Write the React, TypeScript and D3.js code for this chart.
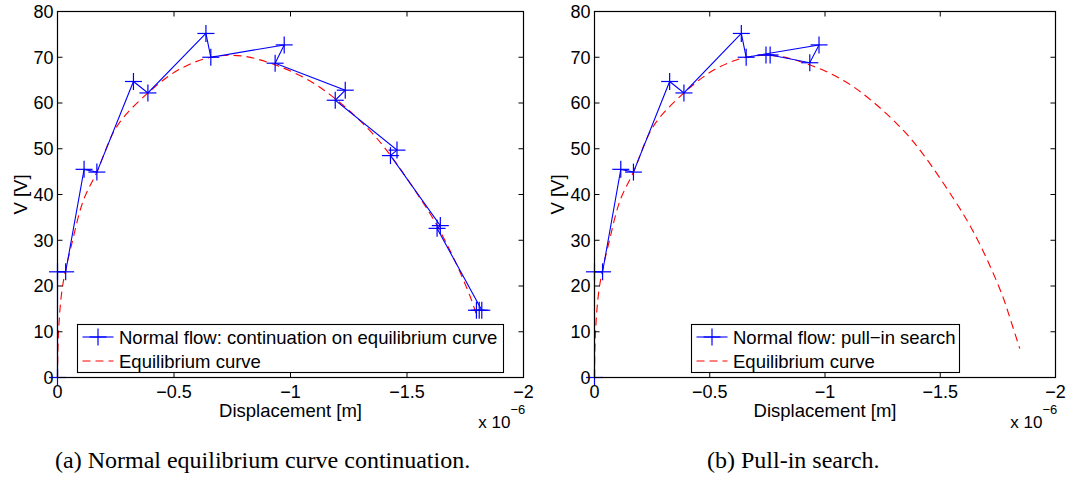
import React from 'react';
import * as d3 from 'd3';

// axis ticks (displacement in units of 1e-6 m)
const xTicks = [0, -0.5, -1, -1.5, -2];
const xTickLabels = ['0', '\u22120.5', '\u22121', '\u22121.5', '\u22122'];
const yTicks = [0, 10, 20, 30, 40, 50, 60, 70, 80];

// equilibrium curve (red dashed)
const eqDisp = [0, -0.0044, -0.022, -0.065, -0.111, -0.169, -0.255, -0.388, -0.521, -0.658, -0.788, -0.936, -1.084, -1.2, -1.34, -1.43, -1.56, -1.628, -1.703, -1.772, -1.796, -1.845];
const eqVolt = [0, 10, 20, 30, 38.7, 44.9, 54.9, 62.2, 67.3, 70.0, 70.3, 68.3, 64.8, 60.6, 54.0, 48.5, 38.9, 33.3, 25.8, 17.6, 14.0, 6.3];

// (a) normal flow: continuation on equilibrium curve
const contDisp = [0, 0, -0.035, -0.114, -0.169, -0.326, -0.388, -0.637, -0.658, -0.973, -0.934, -1.235, -1.192, -1.457, -1.429, -1.643, -1.629, -1.821, -1.798, -1.81];
const contVolt = [0, 23.1, 23.1, 45.5, 44.9, 64.7, 62.2, 75.2, 70.0, 72.7, 68.7, 62.8, 60.6, 49.7, 48.5, 33.2, 32.6, 14.7, 14.7, 14.7];

// (b) normal flow: pull-in search
const pullDisp = [0, 0, -0.035, -0.114, -0.169, -0.326, -0.388, -0.637, -0.658, -0.974, -0.934, -0.762, -0.744];
const pullVolt = [0, 23.1, 23.1, 45.5, 44.9, 64.7, 62.2, 75.2, 70.0, 72.7, 68.8, 70.5, 70.5];

const TOP = 11.5;
const BOTTOM = 377.5;
const FONT = '"Liberation Sans", Arial, Helvetica, sans-serif';
const SERIF = '"Liberation Serif", "Times New Roman", serif';
const BLUE = '#0000ff';
const RED = '#ff0000';

function Plus({ cx, cy, r = 8.5 }) {
  return (
    <g stroke={BLUE} strokeWidth={1.2}>
      <line x1={cx - r} x2={cx + r} y1={cy} y2={cy} />
      <line x1={cx} x2={cx} y1={cy - r} y2={cy + r} />
    </g>
  );
}

function Panel({ left, right, flowDisp, flowVolt, eqEnd, legendText, legendX, legendW, caption, captionX }) {
  const x = d3.scaleLinear().domain([0, -2]).range([left, right]);
  const y = d3.scaleLinear().domain([0, 80]).range([BOTTOM, TOP]);

  const eqIdx = d3.range(eqDisp.length).filter((i) => eqDisp[i] >= eqEnd);
  const eqLine = d3
    .line<number>()
    .x((i) => x(eqDisp[i]))
    .y((i) => y(eqVolt[i]))
    .curve(d3.curveCatmullRom.alpha(0.5));
  const flowLine = d3
    .line<number>()
    .x((i) => x(flowDisp[i]))
    .y((i) => y(flowVolt[i]));
  const flowIdx = d3.range(flowDisp.length);

  const legTop = 324.5;
  const legH = 48;
  const midX = (left + right) / 2;

  return (
    <g>
      {/* curves */}
      <path d={eqLine(eqIdx) || ''} fill="none" stroke={RED} strokeWidth={1.1} strokeDasharray="8,5" />
      <path d={flowLine(flowIdx) || ''} fill="none" stroke={BLUE} strokeWidth={1.1} />
      {flowIdx.map((i) => (
        <Plus key={i} cx={x(flowDisp[i])} cy={y(flowVolt[i])} />
      ))}

      {/* frame and ticks */}
      <rect x={left} y={TOP} width={right - left} height={BOTTOM - TOP} fill="none" stroke="#000" strokeWidth={1.2} />
      {xTicks.map((t, i) => (
        <g key={'x' + t}>
          <line x1={x(t)} x2={x(t)} y1={BOTTOM} y2={BOTTOM - 5} stroke="#000" />
          <line x1={x(t)} x2={x(t)} y1={TOP} y2={TOP + 5} stroke="#000" />
          <text x={x(t)} y={BOTTOM + 20} textAnchor="middle" fontSize={18} fontFamily={FONT}>
            {xTickLabels[i]}
          </text>
        </g>
      ))}
      {yTicks.map((t) => (
        <g key={'y' + t}>
          <line x1={left} x2={left + 5} y1={y(t)} y2={y(t)} stroke="#000" />
          <line x1={right} x2={right - 5} y1={y(t)} y2={y(t)} stroke="#000" />
          <text x={left - 4} y={y(t)} dy="0.36em" textAnchor="end" fontSize={18} fontFamily={FONT}>
            {t}
          </text>
        </g>
      ))}

      {/* axis labels */}
      <text x={midX} y={416.5} textAnchor="middle" fontSize={18.5} fontFamily={FONT}>
        Displacement [m]
      </text>
      <text
        x={left - 31}
        y={(TOP + BOTTOM) / 2}
        transform={`rotate(-90, ${left - 31}, ${(TOP + BOTTOM) / 2})`}
        textAnchor="middle"
        fontSize={18.5}
        fontFamily={FONT}
      >
        V [V]
      </text>
      <text x={right - 13} y={428} textAnchor="end" fontSize={17} fontFamily={FONT}>
        x 10
      </text>
      <text x={right - 13} y={414} textAnchor="start" fontSize={13} fontFamily={FONT}>
        {'\u22126'}
      </text>

      {/* legend */}
      <rect x={legendX} y={legTop} width={legendW} height={legH} fill="#fff" stroke="#000" strokeWidth={1.1} />
      <line x1={legendX + 5} x2={legendX + 36} y1={legTop + 12.5} y2={legTop + 12.5} stroke={BLUE} strokeWidth={1.1} />
      <Plus cx={legendX + 20.5} cy={legTop + 12.5} />
      <text x={legendX + 41.5} y={legTop + 19} fontSize={18.5} fontFamily={FONT}>
        {legendText}
      </text>
      <line
        x1={legendX + 5}
        x2={legendX + 36}
        y1={legTop + 36.5}
        y2={legTop + 36.5}
        stroke={RED}
        strokeWidth={1.1}
        strokeDasharray="8,5"
      />
      <text x={legendX + 41.5} y={legTop + 43} fontSize={18.5} fontFamily={FONT}>
        Equilibrium curve
      </text>

      {/* caption */}
      <text x={captionX} y={468} textAnchor="start" fontSize={24} fontFamily={SERIF}>
        {caption}
      </text>
    </g>
  );
}

export default function App() {
  return (
    <svg
      width={1067}
      height={477}
      style={{ position: 'absolute', left: 0, top: 0, background: '#fff' }}
    >
      <rect width={1067} height={477} fill="#fff" />
      <Panel
        left={57.5}
        right={523.5}
        flowDisp={contDisp}
        flowVolt={contVolt}
        eqEnd={-1.8}
        legendText="Normal flow: continuation on equilibrium curve"
        legendX={77.5}
        legendW={426}
        caption="(a) Normal equilibrium curve continuation."
        captionX={55}
      />
      <Panel
        left={594.5}
        right={1055.5}
        flowDisp={pullDisp}
        flowVolt={pullVolt}
        eqEnd={-1.9}
        legendText={'Normal flow: pull\u2212in search'}
        legendX={691.5}
        legendW={268}
        caption="(b) Pull-in search."
        captionX={707}
      />
    </svg>
  );
}
